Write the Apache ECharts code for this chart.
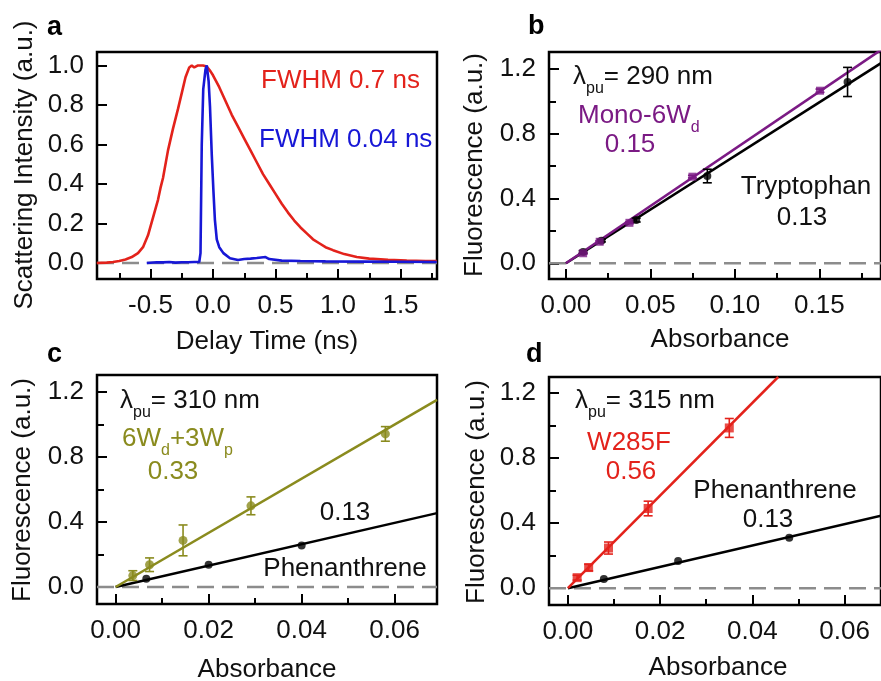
<!DOCTYPE html>
<html><head><meta charset="utf-8">
<script src="https://cdn.jsdelivr.net/npm/echarts@6/dist/echarts.min.js"></script>
<style>html,body{margin:0;padding:0;background:#fff}#c{width:881px;height:681px}</style>
</head><body><div id="c"></div>
<script>
// ---------- Panel a: scattering traces ----------
const aRedT = [-0.93,-0.85,-0.80,-0.75,-0.70,-0.65,-0.60,-0.56,-0.52,-0.48,-0.44,-0.42,-0.40,-0.36,-0.32,-0.28,-0.25,-0.22,-0.19,-0.17,-0.15,-0.12,-0.08,-0.05,-0.02,0.00,0.05,0.10,0.15,0.20,0.25,0.30,0.35,0.40,0.45,0.50,0.55,0.60,0.65,0.70,0.75,0.80,0.85,0.90,0.96,1.05,1.15,1.25,1.40,1.55,1.70,1.79];
const aRedV = [0.0,0.002,0.005,0.01,0.018,0.03,0.05,0.08,0.14,0.23,0.32,0.38,0.43,0.57,0.68,0.78,0.86,0.94,0.99,1.0,0.99,1.0,1.0,0.995,0.97,0.95,0.89,0.82,0.75,0.69,0.63,0.57,0.51,0.45,0.40,0.35,0.30,0.255,0.215,0.18,0.15,0.12,0.10,0.08,0.065,0.045,0.03,0.022,0.016,0.012,0.01,0.01];
const aBlueT = [-0.53,-0.45,-0.40,-0.35,-0.30,-0.25,-0.20,-0.15,-0.11,-0.10,-0.09,-0.078,-0.06,-0.05,-0.035,-0.024,-0.01,0.003,0.015,0.03,0.05,0.083,0.136,0.20,0.25,0.30,0.35,0.42,0.45,0.55,0.70,0.90,1.20,1.50,1.79];
const aBlueV = [0.0,0.004,0.003,0.005,0.002,0.004,0.004,0.005,0.005,0.05,0.60,0.88,0.98,1.0,0.92,0.79,0.55,0.37,0.22,0.12,0.08,0.05,0.024,0.015,0.02,0.022,0.025,0.03,0.02,0.012,0.01,0.008,0.007,0.006,0.005];

// ---------- Panel b: lambda_pu = 290 nm ----------
const bTrpX = [0.0102,0.021,0.0416,0.0837,0.1667];
const bTrpY = [0.07,0.14,0.267,0.539,1.12];
const bTrpE = [0.008,0.008,0.012,0.042,0.09];
const bMonoX = [0.0102,0.020,0.0376,0.0749,0.1504];
const bMonoY = [0.062,0.133,0.25,0.535,1.066];
const bMonoE = [0.005,0.005,0.005,0.008,0.01];
const bMonoFitX = [0.0,0.1865];
const bMonoFitY = [0.0,1.318];
const bTrpFitX = [0.0,0.1865];
const bTrpFitY = [0.0,1.236];

// ---------- Panel c: lambda_pu = 310 nm ----------
const c6WX = [0.0037,0.0073,0.0145,0.0291,0.058];
const c6WY = [0.07,0.137,0.287,0.50,0.943];
const c6WE = [0.03,0.042,0.095,0.055,0.045];
const cPheX = [0.0066,0.020,0.040];
const cPheY = [0.051,0.137,0.256];
const c6WFitX = [0.0,0.0691];
const c6WFitY = [0.0,1.153];
const cPheFitX = [0.0,0.0691];
const cPheFitY = [0.0,0.455];

// ---------- Panel d: lambda_pu = 315 nm ----------
const dWX = [0.002,0.0045,0.0088,0.0174,0.035];
const dWY = [0.065,0.127,0.247,0.49,0.985];
const dWE = [0.015,0.02,0.037,0.045,0.058];
const dPheX = [0.0078,0.0239,0.048];
const dPheY = [0.057,0.168,0.311];
const dWFitX = [0.0,0.0456];
const dWFitY = [0.0,1.298];
const dPheFitX = [0.0,0.0679];
const dPheFitY = [0.0,0.445];

// ---------- tick values ----------
const aXMajor = [-0.5,0.0,0.5,1.0,1.5];
const aXMinor = [-0.75,-0.25,0.25,0.75,1.25,1.75];
const aYMajor = [0.0,0.2,0.4,0.6,0.8,1.0];
const bXMajor = [0.0,0.05,0.10,0.15];
const bXMinor = [0.025,0.075,0.125,0.175];
const fYMajor = [0.0,0.4,0.8,1.2];
const fYMinor = [0.2,0.6,1.0];
const cdXMajor = [0.0,0.02,0.04,0.06];
const cdXMinor = [0.01,0.03,0.05];

const FONT = '"Liberation Sans", Arial, Helvetica, sans-serif';
const RED = '#e3221b', BLUE = '#1717d6', PURPLE = '#7b1a84', OLIVE = '#8a8b1e', GRAY = '#8c8c8c', BLACK = '#111';

const zip = (xs, ys) => xs.map((x, i) => [x, ys[i]]);
const zip3 = (xs, ys, es) => xs.map((x, i) => [x, ys[i], es[i]]);

const grids = [], xAxes = [], yAxes = [], series = [];

function panel(g, xr, yr, xMaj, xMin, yMaj, yMin, xDec, yDec) {
  const gi = grids.length;
  grids.push(Object.assign({show: true, borderColor: '#000', borderWidth: 2.5, backgroundColor: 'transparent'}, g));
  const xi = xAxes.length;
  const tickStyle = {color: '#000', width: 2};
  const noLine = {show: false, onZero: false};
  xAxes.push({type: 'value', gridIndex: gi, min: xr[0], max: xr[1], position: 'bottom', offset: 0,
    axisLine: noLine, splitLine: {show: false},
    axisTick: {show: true, inside: true, length: 10, customValues: xMaj, lineStyle: tickStyle},
    axisLabel: {customValues: xMaj, margin: 14, color: BLACK, fontSize: 26, fontFamily: FONT,
      formatter: v => v.toFixed(xDec)}});
  if (xMin.length) xAxes.push({type: 'value', gridIndex: gi, min: xr[0], max: xr[1], position: 'bottom', offset: 0,
    axisLine: noLine, splitLine: {show: false}, axisLabel: {show: false},
    axisTick: {show: true, inside: true, length: 6, customValues: xMin, lineStyle: tickStyle}});
  const yi = yAxes.length;
  yAxes.push({type: 'value', gridIndex: gi, min: yr[0], max: yr[1], position: 'left', offset: 0,
    axisLine: noLine, splitLine: {show: false},
    axisTick: {show: true, inside: true, length: 10, customValues: yMaj, lineStyle: tickStyle},
    axisLabel: {customValues: yMaj, margin: 13, color: BLACK, fontSize: 26, fontFamily: FONT,
      formatter: v => v.toFixed(yDec)}});
  if (yMin.length) yAxes.push({type: 'value', gridIndex: gi, min: yr[0], max: yr[1], position: 'left', offset: 0,
    axisLine: noLine, splitLine: {show: false}, axisLabel: {show: false},
    axisTick: {show: true, inside: true, length: 7, customValues: yMin, lineStyle: tickStyle}});
  // zero reference dashed line
  series.push({type: 'line', xAxisIndex: xi, yAxisIndex: yi, data: [[xr[0], 0], [xr[1], 0]],
    showSymbol: false, silent: true, z: 1,
    lineStyle: {color: GRAY, width: 2.5, type: [17, 8]}});
  return {xi, yi};
}

function lineS(p, data, color, width, z) {
  series.push({type: 'line', xAxisIndex: p.xi, yAxisIndex: p.yi, data, showSymbol: false, z: z || 3,
    lineStyle: {color, width}});
}
function pts(p, data, color, symbol, size) {
  series.push({type: 'scatter', xAxisIndex: p.xi, yAxisIndex: p.yi, data, symbol, symbolSize: size, z: 5,
    itemStyle: {color}});
}
function errs(p, data, color) {
  series.push({type: 'custom', xAxisIndex: p.xi, yAxisIndex: p.yi, data, z: 4,
    encode: {x: 0, y: 1},
    renderItem: (params, api) => {
      const x = api.value(0), y = api.value(1), e = api.value(2);
      const t = api.coord([x, y + e]), b = api.coord([x, y - e]);
      const w = 4.5, st = {stroke: color, lineWidth: 1.6};
      return {type: 'group', children: [
        {type: 'line', shape: {x1: t[0], y1: t[1], x2: b[0], y2: b[1]}, style: st},
        {type: 'line', shape: {x1: t[0] - w, y1: t[1], x2: t[0] + w, y2: t[1]}, style: st},
        {type: 'line', shape: {x1: b[0] - w, y1: b[1], x2: b[0] + w, y2: b[1]}, style: st}
      ]};
    }});
}

// Panel a
const pa = panel({left: 97, top: 52, width: 340, height: 227}, [-0.928, 1.792], [-0.081, 1.068],
  aXMajor, aXMinor, aYMajor, [], 1, 1);
lineS(pa, zip(aRedT, aRedV), RED, 2.6);
lineS(pa, zip(aBlueT, aBlueV), BLUE, 2.6, 4);

// Panel b
const pb = panel({left: 549, top: 52, width: 334, height: 227}, [-0.01, 0.1865], [-0.097, 1.305],
  bXMajor, bXMinor, fYMajor, fYMinor, 2, 1);
lineS(pb, zip(bTrpFitX, bTrpFitY), '#000', 2.5);
lineS(pb, zip(bMonoFitX, bMonoFitY), PURPLE, 2.6);
errs(pb, zip3(bTrpX, bTrpY, bTrpE), '#000');
errs(pb, zip3(bMonoX, bMonoY, bMonoE), PURPLE);
pts(pb, zip(bTrpX, bTrpY), '#000', 'circle', 8);
pts(pb, zip(bMonoX, bMonoY), PURPLE, 'rect', 8);

// Panel c
const pc = panel({left: 97, top: 375, width: 340, height: 229}, [-0.004, 0.0691], [-0.105, 1.306],
  cdXMajor, cdXMinor, fYMajor, fYMinor, 2, 1);
lineS(pc, zip(cPheFitX, cPheFitY), '#000', 2.5);
lineS(pc, zip(c6WFitX, c6WFitY), OLIVE, 2.5);
errs(pc, zip3(c6WX, c6WY, c6WE), OLIVE);
pts(pc, zip(cPheX, cPheY), '#000', 'circle', 8);
pts(pc, zip(c6WX, c6WY), OLIVE, 'circle', 9);

// Panel d
const pd = panel({left: 549, top: 377, width: 334, height: 228}, [-0.0041, 0.0679], [-0.103, 1.298],
  cdXMajor, cdXMinor, fYMajor, fYMinor, 2, 1);
lineS(pd, zip(dPheFitX, dPheFitY), '#000', 2.5);
lineS(pd, zip(dWFitX, dWFitY), RED, 2.5);
errs(pd, zip3(dWX, dWY, dWE), RED);
pts(pd, zip(dPheX, dPheY), '#000', 'circle', 8);
pts(pd, zip(dWX, dWY), RED, 'rect', 9);

// ---------- text ----------
function T(text, x, y, color, align, extra) {
  return Object.assign({type: 'text', x, y, z: 10, silent: true,
    style: {text, fill: color, font: '26px ' + FONT, textAlign: align || 'left', textVerticalAlign: 'middle'}}, extra || {});
}
function B(text, x, y) {
  return {type: 'text', x, y, z: 10, silent: true,
    style: {text, fill: '#000', font: 'bold 27px ' + FONT, textAlign: 'left', textVerticalAlign: 'middle'}};
}
function R(text, x, cy, color, align) {
  return {type: 'text', x, y: cy - 14, z: 10, silent: true,
    style: {text, textAlign: align || 'left', textVerticalAlign: 'top',
      rich: {
        m: {fontSize: 26, fontFamily: FONT, fill: color, lineHeight: 28, verticalAlign: 'top'},
        s: {fontSize: 16, fontFamily: FONT, fill: color, lineHeight: 16, padding: [17, 0, 0, 0], verticalAlign: 'top'}
      }}};
}
const ROT = {rotation: Math.PI / 2};
const graphic = [
  B('a', 47, 28), B('b', 528, 27), B('c', 47, 355), B('d', 526, 355),
  T('Scattering Intensity (a.u.)', 25, 165, BLACK, 'center', ROT),
  T('Delay Time (ns)', 267, 342, BLACK, 'center'),
  T('FWHM 0.7 ns', 261, 81, RED),
  T('FWHM 0.04 ns', 259, 140, BLUE),
  T('Fluorescence (a.u.)', 475, 165, BLACK, 'center', ROT),
  T('Absorbance', 720, 340, BLACK, 'center'),
  R('{m|λ}{s|pu}{m|= 290 nm}', 573, 78, BLACK),
  R('{m|Mono-6W}{s|d}', 578, 117, PURPLE),
  T('0.15', 630, 145, PURPLE, 'center'),
  T('Tryptophan', 806, 187, BLACK, 'center'),
  T('0.13', 802, 218, BLACK, 'center'),
  T('Fluorescence (a.u.)', 23, 490, BLACK, 'center', ROT),
  T('Absorbance', 267, 670, BLACK, 'center'),
  R('{m|λ}{s|pu}{m|= 310 nm}', 120, 402, BLACK),
  R('{m|6W}{s|d}{m|+3W}{s|p}', 122, 440, OLIVE),
  T('0.33', 173, 472, OLIVE, 'center'),
  T('0.13', 345, 513, BLACK, 'center'),
  T('Phenanthrene', 345, 569, BLACK, 'center'),
  T('Fluorescence (a.u.)', 477, 492, BLACK, 'center', ROT),
  T('Absorbance', 718, 668, BLACK, 'center'),
  R('{m|λ}{s|pu}{m|= 315 nm}', 575, 402, BLACK),
  T('W285F', 629, 443, RED, 'center'),
  T('0.56', 631, 472, RED, 'center'),
  T('Phenanthrene', 775, 491, BLACK, 'center'),
  T('0.13', 768, 520, BLACK, 'center')
];

const chart = echarts.init(document.getElementById('c'), null, {renderer: 'canvas'});
chart.setOption({
  animation: false,
  backgroundColor: '#fff',
  grid: grids, xAxis: xAxes, yAxis: yAxes, series, graphic
});
</script></body></html>
